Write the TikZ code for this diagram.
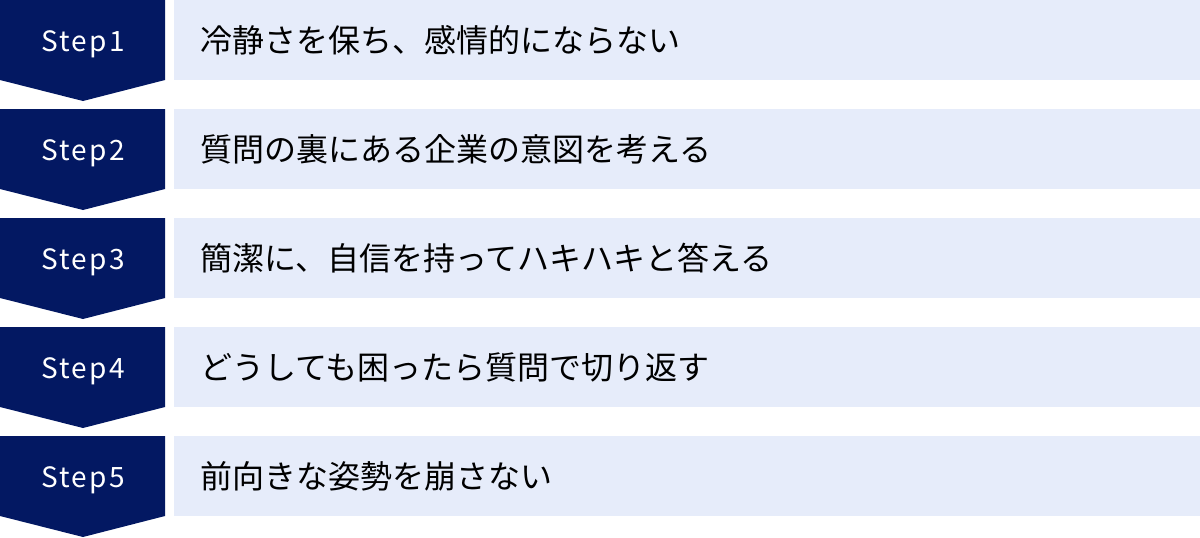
\documentclass[tikz,border=0pt]{standalone}
\usepackage{fontspec}
\setmainfont{Noto Sans}
\newfontfamily\jpfont{Noto Sans CJK JP}
\newfontfamily\stepfont[LetterSpace=8]{Noto Sans CJK JP}
\usepackage{xcolor}
\definecolor{stepnavy}{RGB}{3,24,98}
\definecolor{rowblue}{RGB}{230,236,250}

\begin{document}
\begin{tikzpicture}[x=1pt,y=-1pt]
        \useasboundingbox (0,0) rectangle (1200,538);
        \def\rowh{109} % abstand der zeilen
        \foreach \i/\t in {1/冷静さを保ち、感情的にならない,
                           2/質問の裏にある企業の意図を考える,
                           3/簡潔に、自信を持ってハキハキと答える,
                           4/どうしても困ったら質問で切り返す,
                           5/前向きな姿勢を崩さない}
        {
        \pgfmathsetmacro\ry{(\i-1)*\rowh}
        \fill[stepnavy] (0,\ry) -- (165,\ry) -- (165,\ry+80) -- (83,\ry+101) -- (0,\ry+80) -- cycle; % pfeil
        \fill[rowblue] (174,\ry) rectangle (1200,\ry+80); % balken
        \node[white, anchor=base, inner sep=0pt, font=\stepfont\fontsize{28}{34}\selectfont] (step\i) at (83,\ry+51.5) {Step\i};
        \node[anchor=west, inner sep=0pt, font=\jpfont\fontsize{32}{38}\selectfont] (text\i) at (200,\ry+40) {\t};
        }
\end{tikzpicture}
\end{document}
